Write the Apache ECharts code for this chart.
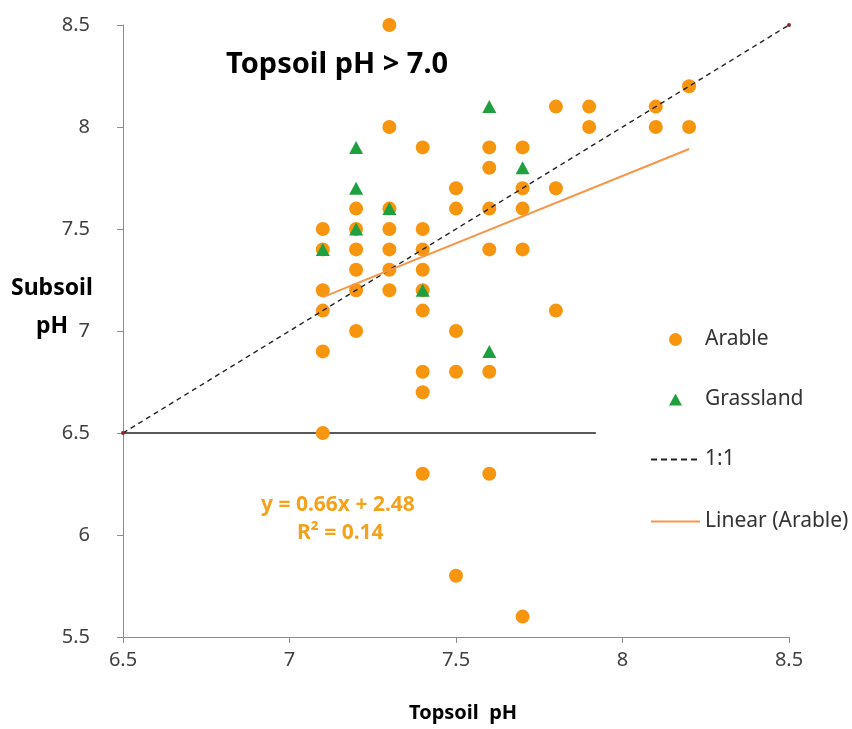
<!DOCTYPE html>
<html>
<head>
<meta charset="utf-8">
<title>Topsoil vs Subsoil pH</title>
<script src="https://cdn.jsdelivr.net/npm/echarts@6/dist/echarts.min.js"></script>
<style>
  html, body { margin: 0; padding: 0; background: #fff; }
  #chart { width: 852px; height: 729px; }
</style>
</head>
<body>
<div id="chart"></div>
<script>
// Topsoil pH (x) and subsoil pH (y) for arable sites
const arableTop = [
  7.1, 7.1, 7.1, 7.1, 7.1, 7.1,
  7.2, 7.2, 7.2, 7.2, 7.2, 7.2,
  7.3, 7.3, 7.3, 7.3, 7.3, 7.3, 7.3,
  7.4, 7.4, 7.4, 7.4, 7.4, 7.4, 7.4, 7.4, 7.4,
  7.5, 7.5, 7.5, 7.5, 7.5,
  7.6, 7.6, 7.6, 7.6, 7.6, 7.6,
  7.7, 7.7, 7.7, 7.7, 7.7,
  7.8, 7.8, 7.8,
  7.9, 7.9,
  8.1, 8.1,
  8.2, 8.2
];
const arableSub = [
  7.5, 7.4, 7.2, 7.1, 6.9, 6.5,
  7.6, 7.5, 7.4, 7.3, 7.2, 7.0,
  8.5, 8.0, 7.6, 7.5, 7.4, 7.3, 7.2,
  7.9, 7.5, 7.4, 7.3, 7.2, 7.1, 6.8, 6.7, 6.3,
  7.7, 7.6, 7.0, 6.8, 5.8,
  7.9, 7.8, 7.6, 7.4, 6.8, 6.3,
  7.9, 7.7, 7.6, 7.4, 5.6,
  8.1, 7.7, 7.1,
  8.1, 8.0,
  8.1, 8.0,
  8.2, 8.0
];

// Grassland sites
const grassTop = [7.1, 7.2, 7.2, 7.2, 7.3, 7.4, 7.6, 7.6, 7.7];
const grassSub = [7.4, 7.9, 7.7, 7.5, 7.6, 7.2, 8.1, 6.9, 7.8];

// 1:1 reference line end points
const oneToOne = [6.5, 8.5];

// Linear fit for arable sites: y = 0.66x + 2.48 over the arable topsoil range
const fitSlope = 0.66;
const fitIntercept = 2.48;
const fitRange = [7.1, 8.2];

// Horizontal guide at subsoil pH 6.5
const guideLevel = 6.5;
const guideRange = [6.5, 7.92];

// Axis ranges
const xRange = [6.5, 8.5];
const yRange = [5.5, 8.5];
const tickStep = 0.5;

const pairs = (xs, ys) => xs.map((x, i) => [x, ys[i]]);
const FONT = 'Noto Sans';
const ORANGE = '#F7950F';
const FIT = '#F79646';

const chart = echarts.init(document.getElementById('chart'), null, { renderer: 'canvas' });

const legendText = { fontFamily: FONT, fontSize: 21, color: '#333' };
const legendBase = {
  orient: 'vertical',
  selectedMode: false,
  symbolKeepAspect: false,
  padding: 0
};

// dashed and solid line icons for the legend
const dashIcon = 'path://M0,0h6v1.6h-6z M10,0h6v1.6h-6z M20,0h6v1.6h-6z M30,0h6v1.6h-6z M40,0h6v1.6h-6z';
const solidIcon = 'path://M0,0h48v2h-48z';

chart.setOption({
  backgroundColor: '#ffffff',
  animation: false,
  grid: { left: 123, right: 63, top: 25, bottom: 92 },
  xAxis: {
    type: 'value',
    min: xRange[0], max: xRange[1], interval: tickStep,
    axisLine: { show: true, onZero: false, lineStyle: { color: '#8c8c8c', width: 1 } },
    axisTick: { show: true, length: 6, lineStyle: { color: '#8c8c8c' } },
    splitLine: { show: false },
    axisLabel: { fontFamily: FONT, fontSize: 20, color: '#404040', margin: 13 }
  },
  yAxis: {
    type: 'value',
    min: yRange[0], max: yRange[1], interval: tickStep,
    axisLine: { show: true, onZero: false, lineStyle: { color: '#8c8c8c', width: 1 } },
    axisTick: { show: true, length: 6, lineStyle: { color: '#8c8c8c' } },
    splitLine: { show: false },
    axisLabel: { fontFamily: FONT, fontSize: 20, color: '#404040', margin: 33 }
  },
  legend: [
    Object.assign({}, legendBase, {
      left: 669, top: 329, itemWidth: 13, itemHeight: 13,
      textStyle: Object.assign({ padding: [0, 0, 0, 18] }, legendText),
      data: [{ name: 'Arable', icon: 'circle' }]
    }),
    Object.assign({}, legendBase, {
      left: 669, top: 389, itemWidth: 13, itemHeight: 12,
      textStyle: Object.assign({ padding: [0, 0, 0, 18] }, legendText),
      data: [{ name: 'Grassland', icon: 'triangle' }]
    }),
    Object.assign({}, legendBase, {
      left: 651, top: 449, itemWidth: 46, itemHeight: 2,
      textStyle: Object.assign({ padding: [0, 0, 0, 3] }, legendText),
      data: [{ name: '1:1', icon: dashIcon }]
    }),
    Object.assign({}, legendBase, {
      left: 651, top: 511, itemWidth: 49, itemHeight: 2,
      textStyle: Object.assign({ padding: [0, 0, 0, 0] }, legendText),
      data: [{ name: 'Linear (Arable)', icon: solidIcon }]
    })
  ],
  graphic: [
    {
      type: 'text', left: 226, top: 50,
      style: { text: 'Topsoil pH > 7.0', fontFamily: FONT, fontSize: 29, fontWeight: 'bold', fill: '#000' }
    },
    {
      type: 'text', left: 11, top: 277,
      style: { text: 'Subsoil', fontFamily: FONT, fontSize: 23, fontWeight: 'bold', fill: '#000' }
    },
    {
      type: 'text', left: 36, top: 315,
      style: { text: 'pH', fontFamily: FONT, fontSize: 23, fontWeight: 'bold', fill: '#000' }
    },
    {
      type: 'text', left: 409, top: 703,
      style: { text: 'Topsoil  pH', fontFamily: FONT, fontSize: 20, fontWeight: 'bold', fill: '#000' }
    },
    {
      type: 'text', left: 261, top: 495,
      style: { text: 'y = 0.66x + 2.48', fontFamily: FONT, fontSize: 21, fontWeight: 'bold', fill: '#F4A21C' }
    },
    {
      type: 'text', left: 297, top: 523,
      style: { text: 'R\u00B2 = 0.14', fontFamily: FONT, fontSize: 21, fontWeight: 'bold', fill: '#F4A21C' }
    }
  ],
  series: [
    {
      name: 'Arable',
      type: 'scatter',
      symbol: 'circle',
      symbolSize: 14,
      itemStyle: { color: ORANGE, opacity: 1 },
      data: pairs(arableTop, arableSub),
      z: 2
    },
    {
      name: 'Grassland',
      type: 'scatter',
      symbol: 'triangle',
      symbolSize: [14, 13],
      itemStyle: { color: '#1FA040', opacity: 1 },
      data: pairs(grassTop, grassSub),
      z: 3
    },
    {
      name: '1:1',
      type: 'line',
      data: oneToOne.map(v => [v, v]),
      symbol: 'none',
      itemStyle: { color: '#222' },
      lineStyle: { color: '#222', width: 1.4, type: [5, 4] },
      z: 4
    },
    {
      name: 'ends',
      type: 'scatter',
      data: oneToOne.map(v => [v, v]),
      symbol: 'circle',
      symbolSize: 4,
      itemStyle: { color: '#8B2A2A', opacity: 1 },
      z: 5
    },
    {
      name: 'Linear (Arable)',
      type: 'line',
      data: fitRange.map(x => [x, fitSlope * x + fitIntercept]),
      symbol: 'none',
      itemStyle: { color: FIT },
      lineStyle: { color: FIT, width: 2 },
      z: 4
    },
    {
      name: 'guide',
      type: 'line',
      data: guideRange.map(x => [x, guideLevel]),
      symbol: 'none',
      lineStyle: { color: '#222', width: 1.4 },
      z: 1
    }
  ]
});
</script>
</body>
</html>
